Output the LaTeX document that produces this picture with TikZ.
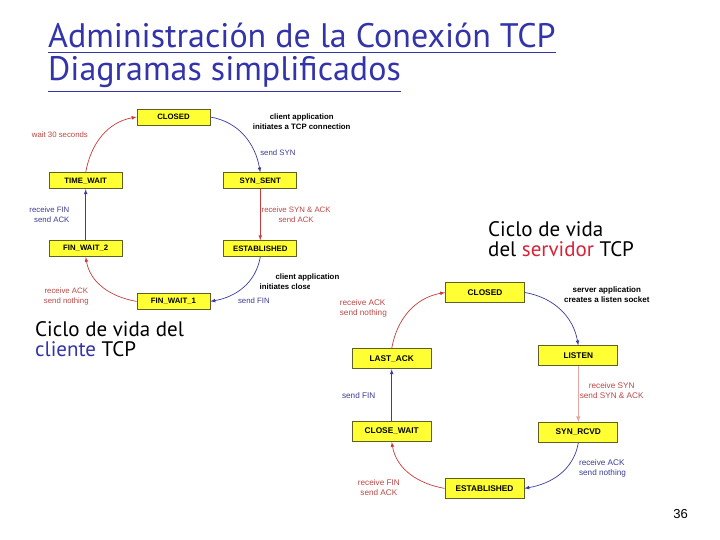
\documentclass[tikz,border=0pt]{standalone}
\usepackage{fontspec}
\setmainfont{Liberation Sans}
\newfontfamily\handfont{PT Sans}
\usetikzlibrary{positioning}

\definecolor{boxyellow}{RGB}{255,255,51}
\definecolor{boxline}{RGB}{95,95,40}
\definecolor{arcred}{RGB}{200,60,60}
\definecolor{arcblue}{RGB}{60,60,160}
\definecolor{labred}{RGB}{190,70,70}
\definecolor{labblue}{RGB}{60,60,150}
\definecolor{pinkline}{RGB}{230,165,165}
\definecolor{titleblue}{RGB}{51,51,170}
\definecolor{wordred}{RGB}{215,35,55}

\begin{document}
\begin{tikzpicture}[x=1pt,y=1pt,>=latex,
    statebox/.style={draw=boxline,fill=boxyellow,line width=0.8pt,inner sep=0pt,
      minimum width=73pt,minimum height=16pt,font=\fontsize{7.8}{8}\selectfont\bfseries},
    bigstatebox/.style={statebox,minimum width=79pt,minimum height=20pt,
      font=\fontsize{8.3}{9}\selectfont\bfseries},
    tag/.style={font=\fontsize{7.8}{10}\selectfont,inner sep=1pt,align=center},
    boldtag/.style={tag,text=black,font=\fontsize{7.8}{10}\selectfont\bfseries},
    bigtag/.style={tag,font=\fontsize{8.2}{10}\selectfont},
    bigtext/.style={font=\handfont\fontsize{21}{20}\selectfont,inner sep=0pt,align=left}]
    \useasboundingbox[fill=white] (0,0) rectangle (720,-540);

    \node[anchor=base west,inner sep=0pt,text=titleblue,font=\handfont\fontsize{34}{36}\selectfont] (title1) at (48,-48) {Administración de la Conexión TCP};
    \node[anchor=base west,inner sep=0pt,text=titleblue,font=\handfont\fontsize{34}{36}\selectfont] (title2) at (48,-81) {Diagramas simplificados};
    \draw[titleblue,line width=1.6pt] ([yshift=-4pt]title1.south west) -- ([yshift=-4pt]title1.south east);
    \draw[titleblue,line width=1.6pt] ([yshift=-3pt]title2.south west) -- ([yshift=-3pt]title2.south east);

    \node[statebox] (closed) at (173.5,-117) {CLOSED};
    \node[statebox] (synsent) [below right=47pt and 13pt of closed] {SYN\_SENT};
    \node[statebox] (timewait) [below left=47pt and 14pt of closed] {TIME\_WAIT};
    \node[statebox] (finwait2) [below=51pt of timewait] {FIN\_WAIT\_2};
    \node[statebox] (established) [below=51pt of synsent] {ESTABLISHED};
    \node[statebox] (finwait1) [below right=36pt and 14pt of finwait2] {FIN\_WAIT\_1};

    \path[->,line width=0.7pt]
    (closed.east)       edge [arcblue,out=-10,in=100] node [boldtag,pos=0.25,anchor=west,xshift=22pt,yshift=2pt] {client application\\initiates a TCP connection}
                                                   node [tag,pos=0.8,right=3pt,yshift=3pt,text=labblue] {send SYN} (synsent.north)
    (synsent)           edge [arcred] node [tag,midway,right,text=labred] {receive SYN \& ACK\\send ACK} (established)
    (established.south) edge [arcblue,out=-100,in=10] node [boldtag,pos=0.3,anchor=west,xshift=6pt,yshift=-5pt] {client application\\initiates close connection}
                                                   node [tag,pos=0.7,anchor=north west,xshift=5pt,yshift=-2pt,text=labblue] {send FIN} (finwait1.east)
    (finwait1.west)     edge [arcred,out=170,in=-80] node [tag,pos=0.3,left=25pt,yshift=-2pt,text=labred] {receive ACK\\send nothing} (finwait2.south)
    (finwait2)          edge [arcblue] node [tag,midway,left=15pt,align=right,text=labblue] {receive FIN\\send ACK} (timewait)
    (timewait.north)    edge [arcred,out=80,in=190] node [tag,pos=0.5,left=13pt,yshift=1pt,text=labred] {wait 30 seconds} (closed.west)
    ;

    \fill[white] (310,-282) rectangle (668,-506);

    \node[bigstatebox] (sclosed) at (485,-292.5) {CLOSED};
    \node[bigstatebox] (listen) [below right=42.5pt and 13.5pt of sclosed] {LISTEN};
    \node[bigstatebox] (lastack) [below left=45.5pt and 13.5pt of sclosed] {LAST\_ACK};
    \node[bigstatebox] (synrcvd) [below=56pt of listen] {SYN\_RCVD};
    \node[bigstatebox] (closewait) [below=52pt of lastack] {CLOSE\_WAIT};
    \node[bigstatebox] (sestablished) [below right=36pt and 13pt of closewait] {ESTABLISHED};

    \path[->,line width=0.7pt]
    (sclosed.east)       edge [arcblue,out=-10,in=100] node [boldtag,pos=0.25,anchor=west,xshift=18pt,yshift=4pt,font=\fontsize{8}{10}\selectfont\bfseries] {server application\\creates a listen socket} (listen.north)
    (listen)             edge [pinkline,line width=1pt] node [bigtag,midway,right,yshift=4pt,text=labred] {receive SYN\\send SYN \& ACK} (synrcvd)
    (synrcvd.south)      edge [arcblue,out=-100,in=10] node [bigtag,pos=0.3,right=8pt,yshift=-5pt,align=left,text=labblue] {receive ACK\\send nothing} (sestablished.east)
    (sestablished.west)  edge [arcred,out=170,in=-80] node [bigtag,pos=0.2,left=28pt,yshift=-3pt,text=labred] {receive FIN\\send ACK} (closewait.south)
    (closewait)          edge [arcblue] node [bigtag,midway,left=15pt,text=labblue] {send FIN} (lastack)
    (lastack.north)      edge [arcred,out=80,in=190] node [bigtag,pos=0.5,left=21pt,yshift=3pt,align=left,text=labred] {receive ACK\\send nothing} (sclosed.west)
    ;

    \node[bigtext,anchor=north west] (servertext) at (488,-221) {Ciclo de vida\\del \textcolor{wordred}{servidor} TCP};
    \node[bigtext,anchor=north west] (clienttext) at (35,-321) {Ciclo de vida del\\\textcolor{titleblue}{cliente} TCP};
    \node[font=\fontsize{13}{14}\selectfont,inner sep=0pt] (pagenum) at (680.5,-514.5) {36};
\end{tikzpicture}
\end{document}
